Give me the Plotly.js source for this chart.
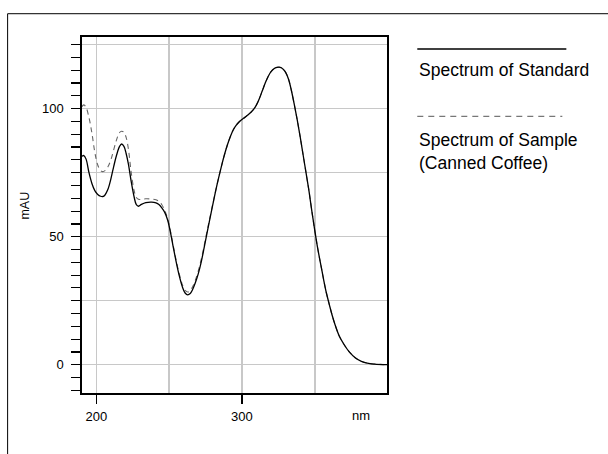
<!DOCTYPE html>
<html>
<head>
<meta charset="utf-8">
<script src="https://cdn.plot.ly/plotly-3.0.1.min.js"></script>
<style>html,body{margin:0;padding:0;background:#fff;}#chart{width:608px;height:454px;}</style>
</head>
<body>
<div id="chart"></div>
<script>
// Wavelength (nm) and absorbance (mAU)
const wavelength = [190,191.5,193,195,197,199,201,203,204.5,206,
  208,210,212,214,216,217.4,219,220.5,222,224,
  226,227.5,229,231,234,238,241,243,245,247,
  249,251,253,255,257,259,261,262.8,264.5,266,
  268,270,272,274,276,278,280,282,284,286,
  288,290,292,294,296,298,300,302,304,306,
  308,310,312,314,316,318,320,322,324,325.5,
  327,328.5,330,332,334,336,338,340,342,344,
  346,348,350,352,354,356,358,360,362,364,
  366.8,370,373.7,378,382,386,391,400];

const standardAbs = [81.4,81.7,80.3,75,70.8,68,66.5,65.8,65.7,66.3,
  68.5,72.5,77.5,82,85.3,86.2,85.3,82.5,78.5,71.5,
  65.5,62.5,61.9,62.6,63.3,63.5,63.2,62.6,61.3,59.5,
  56.5,51.5,45.5,39.8,34.7,30.6,28,27.3,27.8,29.2,
  32,35.5,40,45.5,51.3,57,62.5,68,73,77.7,
  82,85.8,89,91.7,93.5,94.8,95.8,96.6,97.5,98.5,
  99.7,101.5,104,107,110,112.6,114.5,115.6,116.1,116.2,
  116,115.3,114.2,111.5,107,101.5,95.5,89,82,75,
  68,60,52.5,45.5,39.5,33.5,28,23.5,19.2,15.5,
  11.2,8,5,2.6,1.3,0.6,0.25,0];

const sampleAbs = [100.7,101.5,100.5,96.5,90.5,83,78,75.8,75.4,75.8,
  77.3,80,84,88,90.7,91.2,90.8,88.8,84.5,75,
  68,65.3,64.6,64.6,64.8,64.7,64.4,63.8,62.5,60.3,
  57,52,46,40.3,35.4,31.4,29,28.4,28.9,30.3,
  33,36.5,41,46.3,52,57.4,62.8,68,73,77.7,
  82,85.8,89,91.7,93.5,94.8,95.8,96.6,97.5,98.5,
  99.7,101.5,104,107,110,112.6,114.5,115.6,116.1,116.2,
  116,115.3,114.2,111.5,107,101.5,95.5,89,82,75,
  68,60,52.5,45.5,39.5,33.5,28,23.5,19.2,15.5,
  11.2,8,5,2.6,1.3,0.6,0.25,0];

const xTickVals = [200, 300];
const xTickText = ['200', '300'];
const xGridOnly = [250, 350];
const yTickVals = [0, 25, 50, 75, 100, 125];
const yTickText = ['0', '', '50', '', '100', ''];

const seriesNames = ['Spectrum of Standard', 'Spectrum of Sample<br>(Canned Coffee)'];
const xUnit = 'nm';
const yUnit = 'mAU';

const FONT = 'Arial, "Liberation Sans", Helvetica, sans-serif';
const GRID = '#c8c8c8';

const traces = [
  {x: wavelength, y: sampleAbs, type: 'scatter', mode: 'lines', name: seriesNames[1],
   line: {color: '#666666', width: 1.1, dash: '5px,4px', shape: 'spline', smoothing: 1}, hoverinfo: 'skip'},
  {x: wavelength, y: standardAbs, type: 'scatter', mode: 'lines', name: seriesNames[0],
   line: {color: '#000000', width: 1.3, shape: 'spline', smoothing: 1}, hoverinfo: 'skip'}
];

const layout = {
  width: 608, height: 454,
  margin: {l: 82, r: 221, t: 37, b: 61, pad: 0},
  paper_bgcolor: '#ffffff', plot_bgcolor: '#ffffff',
  showlegend: false,
  font: {family: FONT, size: 13, color: '#000'},
  xaxis: {
    range: [190.2, 399.6], tickmode: 'array', tickvals: xTickVals, ticktext: xTickText,
    ticks: 'outside', ticklen: 9, tickwidth: 1.3, tickcolor: '#000',
    showgrid: true, gridcolor: GRID, gridwidth: 1.5,
    showline: true, linecolor: '#000', linewidth: 1.6, mirror: true, zeroline: false,
    minor: {tickmode: 'array', tickvals: xGridOnly, ticks: '', showgrid: true, gridcolor: GRID, gridwidth: 1.5},
    tickfont: {family: FONT, size: 13, color: '#000'}, ticklabelstandoff: 2
  },
  yaxis: {
    range: [-11.05, 128], tickmode: 'array', tickvals: yTickVals, ticktext: yTickText,
    ticks: 'outside', ticklen: 9, tickwidth: 1.4, tickcolor: '#000',
    showgrid: true, gridcolor: GRID, gridwidth: 1.5,
    showline: true, linecolor: '#000', linewidth: 1.6, mirror: true, zeroline: false,
    minor: {tickmode: 'linear', tick0: 0, dtick: 5, ticks: 'outside', ticklen: 9, tickwidth: 1.2, tickcolor: '#000', showgrid: false},
    tickfont: {family: FONT, size: 13, color: '#000'}, ticklabelstandoff: 5
  },
  shapes: [
    {type: 'rect', xref: 'paper', yref: 'paper', x0: -0.2439, x1: 2.5, y0: -0.8, y1: 1.0654,
     line: {color: '#000', width: 1}, fillcolor: 'rgba(0,0,0,0)', layer: 'below'},
    {type: 'line', xref: 'paper', yref: 'paper', x0: 1.0993, x1: 1.588, y0: 0.9663, y1: 0.9663,
     line: {color: '#000', width: 1.3}},
    {type: 'line', xref: 'paper', yref: 'paper', x0: 1.0993, x1: 1.5748, y0: 0.777, y1: 0.777,
     line: {color: '#777', width: 1.2, dash: '6px,5px'}}
  ],
  annotations: [
    {text: seriesNames[0], xref: 'paper', yref: 'paper', x: 1.0993, y: 0.9081, xanchor: 'left', yanchor: 'middle',
     showarrow: false, font: {family: FONT, size: 17.5, color: '#000'}},
    {text: seriesNames[1], xref: 'paper', yref: 'paper', x: 1.0993, y: 0.6792, xanchor: 'left', yanchor: 'middle',
     align: 'left', showarrow: false, font: {family: FONT, size: 17.5, color: '#000'}},
    {text: xUnit, xref: 'paper', yref: 'paper', x: 0.9144, y: -0.0638, xanchor: 'center', yanchor: 'middle',
     showarrow: false, font: {family: FONT, size: 13, color: '#000'}},
    {text: yUnit, xref: 'paper', yref: 'paper', x: -0.1875, y: 0.526, xanchor: 'center', yanchor: 'middle',
     textangle: -90, showarrow: false, font: {family: FONT, size: 12.5, color: '#000'}}
  ]
};

Plotly.newPlot('chart', traces, layout, {displayModeBar: false, staticPlot: true});
</script>
</body>
</html>
